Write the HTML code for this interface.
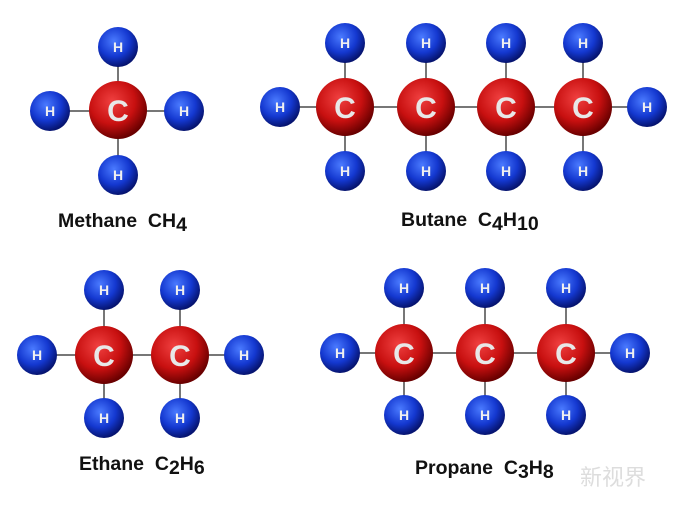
<!DOCTYPE html>
<html><head><style>
html,body{margin:0;padding:0;background:#fff;}
svg{display:block;}
.lab{font-family:"Liberation Sans",sans-serif;font-weight:bold;font-size:19.5px;fill:#111;}
.c{font-family:"Liberation Sans",sans-serif;font-weight:bold;font-size:30px;fill:#e8e8e8;text-anchor:middle;}
.h{font-family:"Liberation Sans",sans-serif;font-weight:bold;font-size:14px;fill:#f0f0f0;text-anchor:middle;}
</style></head><body>
<svg width="700" height="519" viewBox="0 0 700 519" xmlns="http://www.w3.org/2000/svg">
<defs>
<radialGradient id="rg" cx="0.4" cy="0.35" r="0.65">
<stop offset="0" stop-color="#f04040"/><stop offset="0.6" stop-color="#c81010"/><stop offset="1" stop-color="#6a0000"/></radialGradient>
<radialGradient id="bg" cx="0.4" cy="0.35" r="0.65">
<stop offset="0" stop-color="#4a7aff"/><stop offset="0.6" stop-color="#1438d0"/><stop offset="1" stop-color="#061470"/></radialGradient>
</defs>
<g stroke="#777" stroke-width="2">
<line x1="118" y1="47" x2="118" y2="175"/><line x1="50" y1="111" x2="184" y2="111"/>
<line x1="280" y1="107" x2="647" y2="107"/>
<line x1="345" y1="43" x2="345" y2="171"/><line x1="426" y1="43" x2="426" y2="171"/>
<line x1="506" y1="43" x2="506" y2="171"/><line x1="583" y1="43" x2="583" y2="171"/>
<line x1="37" y1="355" x2="244" y2="355"/>
<line x1="104" y1="290" x2="104" y2="418"/><line x1="180" y1="290" x2="180" y2="418"/>
<line x1="340" y1="353" x2="630" y2="353"/>
<line x1="404" y1="288" x2="404" y2="415"/><line x1="485" y1="288" x2="485" y2="415"/><line x1="566" y1="288" x2="566" y2="415"/>
</g>
<g>
<g fill="url(#bg)">
<circle cx="118" cy="47" r="20"/><circle cx="50" cy="111" r="20"/><circle cx="184" cy="111" r="20"/><circle cx="118" cy="175" r="20"/>
<circle cx="280" cy="107" r="20"/><circle cx="647" cy="107" r="20"/>
<circle cx="345" cy="43" r="20"/><circle cx="426" cy="43" r="20"/><circle cx="506" cy="43" r="20"/><circle cx="583" cy="43" r="20"/>
<circle cx="345" cy="171" r="20"/><circle cx="426" cy="171" r="20"/><circle cx="506" cy="171" r="20"/><circle cx="583" cy="171" r="20"/>
<circle cx="37" cy="355" r="20"/><circle cx="244" cy="355" r="20"/>
<circle cx="104" cy="290" r="20"/><circle cx="180" cy="290" r="20"/><circle cx="104" cy="418" r="20"/><circle cx="180" cy="418" r="20"/>
<circle cx="340" cy="353" r="20"/><circle cx="630" cy="353" r="20"/>
<circle cx="404" cy="288" r="20"/><circle cx="485" cy="288" r="20"/><circle cx="566" cy="288" r="20"/>
<circle cx="404" cy="415" r="20"/><circle cx="485" cy="415" r="20"/><circle cx="566" cy="415" r="20"/>
</g>
<g fill="url(#rg)">
<circle cx="118" cy="110" r="29"/>
<circle cx="345" cy="107" r="29"/><circle cx="426" cy="107" r="29"/><circle cx="506" cy="107" r="29"/><circle cx="583" cy="107" r="29"/>
<circle cx="104" cy="355" r="29"/><circle cx="180" cy="355" r="29"/>
<circle cx="404" cy="353" r="29"/><circle cx="485" cy="353" r="29"/><circle cx="566" cy="353" r="29"/>
</g>
<g class="h">
<text x="118" y="52">H</text><text x="50" y="116">H</text><text x="184" y="116">H</text><text x="118" y="180">H</text>
<text x="280" y="112">H</text><text x="647" y="112">H</text>
<text x="345" y="48">H</text><text x="426" y="48">H</text><text x="506" y="48">H</text><text x="583" y="48">H</text>
<text x="345" y="176">H</text><text x="426" y="176">H</text><text x="506" y="176">H</text><text x="583" y="176">H</text>
<text x="37" y="360">H</text><text x="244" y="360">H</text>
<text x="104" y="295">H</text><text x="180" y="295">H</text><text x="104" y="423">H</text><text x="180" y="423">H</text>
<text x="340" y="358">H</text><text x="630" y="358">H</text>
<text x="404" y="293">H</text><text x="485" y="293">H</text><text x="566" y="293">H</text>
<text x="404" y="420">H</text><text x="485" y="420">H</text><text x="566" y="420">H</text>
</g>
<g class="c">
<text x="118" y="121">C</text>
<text x="345" y="118">C</text><text x="426" y="118">C</text><text x="506" y="118">C</text><text x="583" y="118">C</text>
<text x="104" y="366">C</text><text x="180" y="366">C</text>
<text x="404" y="364">C</text><text x="485" y="364">C</text><text x="566" y="364">C</text>
</g>
</g>
<text class="lab" x="58" y="227">Methane&#160; CH<tspan dy="4">4</tspan></text>
<text class="lab" x="401" y="226">Butane&#160; C<tspan dy="4">4</tspan><tspan dy="-4">H</tspan><tspan dy="4">10</tspan></text>
<text class="lab" x="79" y="470">Ethane&#160; C<tspan dy="4">2</tspan><tspan dy="-4">H</tspan><tspan dy="4">6</tspan></text>
<text class="lab" x="415" y="474">Propane&#160; C<tspan dy="4">3</tspan><tspan dy="-4">H</tspan><tspan dy="4">8</tspan></text>
<text x="580" y="485" font-family="Liberation Sans, Noto Sans CJK SC, sans-serif" font-size="22" fill="#ddd">新视界</text>
</svg>
</body></html>
